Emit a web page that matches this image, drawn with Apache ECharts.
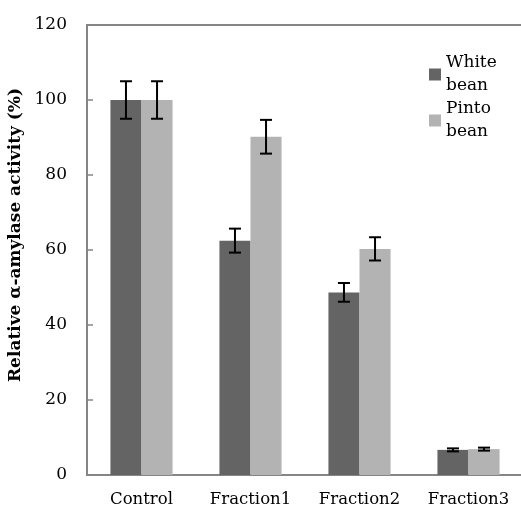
<!DOCTYPE html>
<html><head><meta charset="utf-8">
<script src="https://cdn.jsdelivr.net/npm/echarts@6/dist/echarts.min.js"></script>
<style>html,body{margin:0;padding:0;background:#fff}#c{width:521px;height:510px}</style>
</head><body><div id="c"></div>
<script>
var categories = ['Control', 'Fraction1', 'Fraction2', 'Fraction3'];
var seriesNames = ['White\nbean', 'Pinto\nbean'];
var whiteBean = [100, 62.5, 48.7, 6.7];
var whiteErr = [5, 3.2, 2.5, 0.4];
var pintoBean = [100, 90.2, 60.3, 6.9];
var pintoErr = [5, 4.5, 3.1, 0.4];
var yTicks = [0, 20, 40, 60, 80, 100, 120];

var catGap = 0.43;
var font = 'DejaVu Serif';
function errSeries(vals, errs, idx) {
  return {
    type: 'custom', z: 10, silent: true,
    data: vals.map(function (v, i) { return [i, v - errs[i], v + errs[i]]; }),
    renderItem: function (params, api) {
      var band = api.size([1, 0])[0];
      var bw = band * (1 - catGap) / 2;
      var off = (idx === 0 ? -bw / 2 : bw / 2);
      var lo = api.coord([api.value(0), api.value(1)]);
      var hi = api.coord([api.value(0), api.value(2)]);
      var x = lo[0] + off, hw = 6;
      var st = { stroke: '#000', lineWidth: 2 };
      return { type: 'group', children: [
        { type: 'line', shape: { x1: x, y1: lo[1], x2: x, y2: hi[1] }, style: st },
        { type: 'line', shape: { x1: x - hw, y1: lo[1], x2: x + hw, y2: lo[1] }, style: st },
        { type: 'line', shape: { x1: x - hw, y1: hi[1], x2: x + hw, y2: hi[1] }, style: st }
      ]};
    }
  };
}
var chart = echarts.init(document.getElementById('c'));
chart.setOption({
  animation: false,
  grid: { left: 87, top: 25, width: 436, bottom: 35, show: true, borderColor: '#868686', borderWidth: 2, containLabel: false, outerBoundsMode: 'none' },
  legend: {
    orient: 'vertical', left: 424, top: 35,
    itemWidth: 12, itemHeight: 12, itemGap: -23, itemNameGap: 3,
    icon: 'rect',
    data: seriesNames,
    textStyle: { fontFamily: font, fontSize: 17, color: '#000', lineHeight: 23, padding: [23, 0, 0, 0] }
  },
  xAxis: {
    type: 'category', data: categories,
    axisLine: { lineStyle: { color: '#868686', width: 2 } },
    axisTick: { inside: true, length: 5, lineStyle: { color: '#868686', width: 1.5 } },
    axisLabel: { fontFamily: font, fontSize: 16.5, color: '#000', margin: 16 }
  },
  yAxis: {
    type: 'value', min: yTicks[0], max: yTicks[yTicks.length - 1], interval: 20,
    splitLine: { show: false },
    axisLine: { show: true, lineStyle: { color: '#868686', width: 2 } },
    axisTick: { show: true, inside: true, length: 6, lineStyle: { color: '#868686', width: 1.5 } },
    axisLabel: { fontFamily: font, fontSize: 17, color: '#000', margin: 20 },
    name: 'Relative α-amylase activity (%)', nameLocation: 'middle', nameGap: 50,
    nameTextStyle: { fontFamily: font, fontSize: 17, fontWeight: 'bold', color: '#000', padding: [0, 0, 0, 30] }
  },
  series: [
    { name: seriesNames[0], type: 'bar', data: whiteBean, barGap: '0%', barCategoryGap: (catGap * 100) + '%', itemStyle: { color: '#646464' } },
    { name: seriesNames[1], type: 'bar', data: pintoBean, barGap: '0%', barCategoryGap: (catGap * 100) + '%', itemStyle: { color: '#b3b3b3' } },
    errSeries(whiteBean, whiteErr, 0),
    errSeries(pintoBean, pintoErr, 1)
  ]
});
</script></body></html>
